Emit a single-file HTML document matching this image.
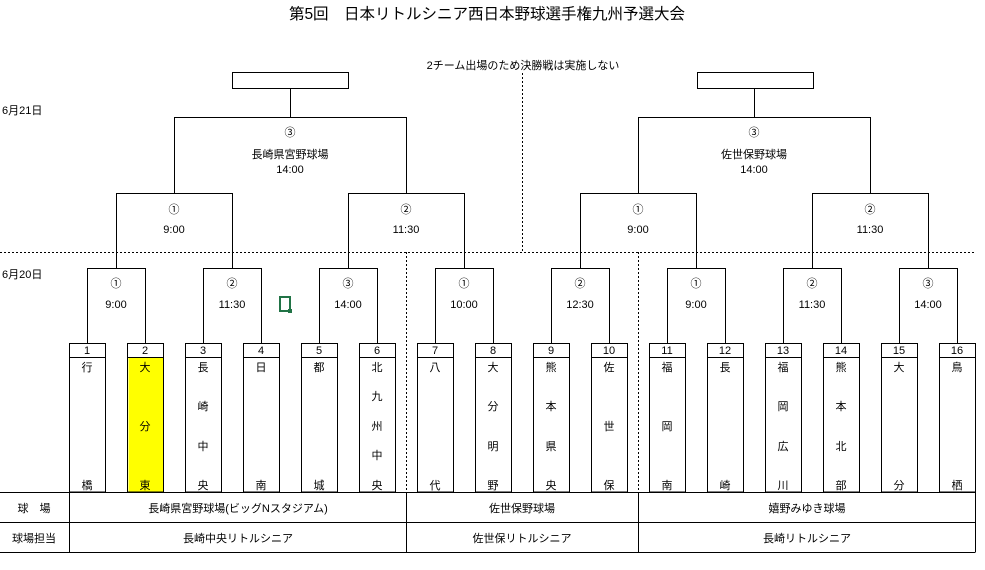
<!DOCTYPE html>
<html><head><meta charset="utf-8"><style>
body{margin:0;background:#fff;width:985px;height:565px;overflow:hidden}
svg text{font-family:"Liberation Sans","Noto Sans CJK JP",sans-serif;font-size:11px;fill:#000}
</style></head><body>
<svg width="985" height="565" viewBox="0 0 985 565" xmlns="http://www.w3.org/2000/svg">
<g stroke="#000" stroke-width="1" fill="none" shape-rendering="crispEdges">
<line x1="0" y1="252.5" x2="975" y2="252.5" stroke-dasharray="2,2"/>
<line x1="522.5" y1="73" x2="522.5" y2="252" stroke-dasharray="2,2"/>
<line x1="406.5" y1="252" x2="406.5" y2="492" stroke-dasharray="2,2"/>
<line x1="638.5" y1="252" x2="638.5" y2="492" stroke-dasharray="2,2"/>
<rect x="232.5" y="72.5" width="116" height="16"/>
<rect x="697.5" y="72.5" width="116" height="16"/>
<path d="M290.5 88.5V117.5M174.5 193.5V117.5H406.5V193.5"/>
<path d="M116.5 268.5V193.5H232.5V268.5M348.5 268.5V193.5H464.5V268.5"/>
<path d="M754.5 88.5V117.5M638.5 193.5V117.5H870.5V193.5"/>
<path d="M580.5 268.5V193.5H696.5V268.5M812.5 268.5V193.5H928.5V268.5"/>
<path d="M87.5 343V268.5H145.5V343M203.5 343V268.5H261.5V343M319.5 343V268.5H377.5V343M435.5 343V268.5H493.5V343M551.5 343V268.5H609.5V343M667.5 343V268.5H725.5V343M783.5 343V268.5H841.5V343M899.5 343V268.5H957.5V343"/>
<path d="M0 492.5H975.5M0 522.5H975.5M0 552.5H975.5M69.5 492V552M406.5 492V552M638.5 492V552M975.5 492V552"/>
</g>
<rect x="128.5" y="357.5" width="35" height="134.5" fill="#ffff00"/>
<g stroke="#000" fill="none" shape-rendering="crispEdges">
<rect x="69.5" y="343.5" width="36" height="148.5"/><line x1="69.5" y1="357.5" x2="105.5" y2="357.5"/>
<rect x="127.5" y="343.5" width="36" height="148.5"/><line x1="127.5" y1="357.5" x2="163.5" y2="357.5"/>
<rect x="185.5" y="343.5" width="36" height="148.5"/><line x1="185.5" y1="357.5" x2="221.5" y2="357.5"/>
<rect x="243.5" y="343.5" width="36" height="148.5"/><line x1="243.5" y1="357.5" x2="279.5" y2="357.5"/>
<rect x="301.5" y="343.5" width="36" height="148.5"/><line x1="301.5" y1="357.5" x2="337.5" y2="357.5"/>
<rect x="359.5" y="343.5" width="36" height="148.5"/><line x1="359.5" y1="357.5" x2="395.5" y2="357.5"/>
<rect x="417.5" y="343.5" width="36" height="148.5"/><line x1="417.5" y1="357.5" x2="453.5" y2="357.5"/>
<rect x="475.5" y="343.5" width="36" height="148.5"/><line x1="475.5" y1="357.5" x2="511.5" y2="357.5"/>
<rect x="533.5" y="343.5" width="36" height="148.5"/><line x1="533.5" y1="357.5" x2="569.5" y2="357.5"/>
<rect x="591.5" y="343.5" width="36" height="148.5"/><line x1="591.5" y1="357.5" x2="627.5" y2="357.5"/>
<rect x="649.5" y="343.5" width="36" height="148.5"/><line x1="649.5" y1="357.5" x2="685.5" y2="357.5"/>
<rect x="707.5" y="343.5" width="36" height="148.5"/><line x1="707.5" y1="357.5" x2="743.5" y2="357.5"/>
<rect x="765.5" y="343.5" width="36" height="148.5"/><line x1="765.5" y1="357.5" x2="801.5" y2="357.5"/>
<rect x="823.5" y="343.5" width="36" height="148.5"/><line x1="823.5" y1="357.5" x2="859.5" y2="357.5"/>
<rect x="881.5" y="343.5" width="36" height="148.5"/><line x1="881.5" y1="357.5" x2="917.5" y2="357.5"/>
<rect x="939.5" y="343.5" width="36" height="148.5"/><line x1="939.5" y1="357.5" x2="975.5" y2="357.5"/>
</g>
<rect x="280" y="297" width="10" height="14" fill="none" stroke="#217346" stroke-width="2"/>
<rect x="288" y="309" width="4" height="4" fill="#217346"/>
<g text-anchor="middle">
<text x="487" y="19" style="font-size:15.5px">第5回　日本リトルシニア西日本野球選手権九州予選大会</text>
<text x="523" y="69">2チーム出場のため決勝戦は実施しない</text>
<text x="290" y="136">③</text><text x="290" y="158">長崎県宮野球場</text><text x="290" y="173">14:00</text>
<text x="754" y="136">③</text><text x="754" y="158">佐世保野球場</text><text x="754" y="173">14:00</text>
<text x="174" y="213">①</text><text x="174" y="233">9:00</text>
<text x="406" y="213">②</text><text x="406" y="233">11:30</text>
<text x="638" y="213">①</text><text x="638" y="233">9:00</text>
<text x="870" y="213">②</text><text x="870" y="233">11:30</text>
<text x="116" y="287">①</text><text x="116" y="308">9:00</text>
<text x="232" y="287">②</text><text x="232" y="308">11:30</text>
<text x="348" y="287">③</text><text x="348" y="308">14:00</text>
<text x="464" y="287">①</text><text x="464" y="308">10:00</text>
<text x="580" y="287">②</text><text x="580" y="308">12:30</text>
<text x="696" y="287">①</text><text x="696" y="308">9:00</text>
<text x="812" y="287">②</text><text x="812" y="308">11:30</text>
<text x="928" y="287">③</text><text x="928" y="308">14:00</text>
<text x="87" y="354">1</text><text x="145" y="354">2</text><text x="203" y="354">3</text><text x="261" y="354">4</text>
<text x="319" y="354">5</text><text x="377" y="354">6</text><text x="435" y="354">7</text><text x="493" y="354">8</text>
<text x="551" y="354">9</text><text x="609" y="354">10</text><text x="667" y="354">11</text><text x="725" y="354">12</text>
<text x="783" y="354">13</text><text x="841" y="354">14</text><text x="899" y="354">15</text><text x="957" y="354">16</text>
<text x="87" y="371">行</text><text x="87" y="489">橋</text>
<text x="145" y="371">大</text><text x="145" y="430">分</text><text x="145" y="489">東</text>
<text x="203" y="371">長</text><text x="203" y="410">崎</text><text x="203" y="450">中</text><text x="203" y="489">央</text>
<text x="261" y="371">日</text><text x="261" y="489">南</text>
<text x="319" y="371">都</text><text x="319" y="489">城</text>
<text x="377" y="371">北</text><text x="377" y="400">九</text><text x="377" y="430">州</text><text x="377" y="459">中</text><text x="377" y="489">央</text>
<text x="435" y="371">八</text><text x="435" y="489">代</text>
<text x="493" y="371">大</text><text x="493" y="410">分</text><text x="493" y="450">明</text><text x="493" y="489">野</text>
<text x="551" y="371">熊</text><text x="551" y="410">本</text><text x="551" y="450">県</text><text x="551" y="489">央</text>
<text x="609" y="371">佐</text><text x="609" y="430">世</text><text x="609" y="489">保</text>
<text x="667" y="371">福</text><text x="667" y="430">岡</text><text x="667" y="489">南</text>
<text x="725" y="371">長</text><text x="725" y="489">崎</text>
<text x="783" y="371">福</text><text x="783" y="410">岡</text><text x="783" y="450">広</text><text x="783" y="489">川</text>
<text x="841" y="371">熊</text><text x="841" y="410">本</text><text x="841" y="450">北</text><text x="841" y="489">部</text>
<text x="899" y="371">大</text><text x="899" y="489">分</text>
<text x="957" y="371">鳥</text><text x="957" y="489">栖</text>
<text x="34" y="512">球　場</text><text x="34" y="542">球場担当</text>
<text x="238" y="512">長崎県宮野球場(ビッグNスタジアム)</text><text x="238" y="542">長崎中央リトルシニア</text>
<text x="522" y="512">佐世保野球場</text><text x="522" y="542">佐世保リトルシニア</text>
<text x="807" y="512">嬉野みゆき球場</text><text x="807" y="542">長崎リトルシニア</text>
</g>
<text x="2" y="114">6月21日</text>
<text x="2" y="278">6月20日</text>
</svg>
</body></html>
